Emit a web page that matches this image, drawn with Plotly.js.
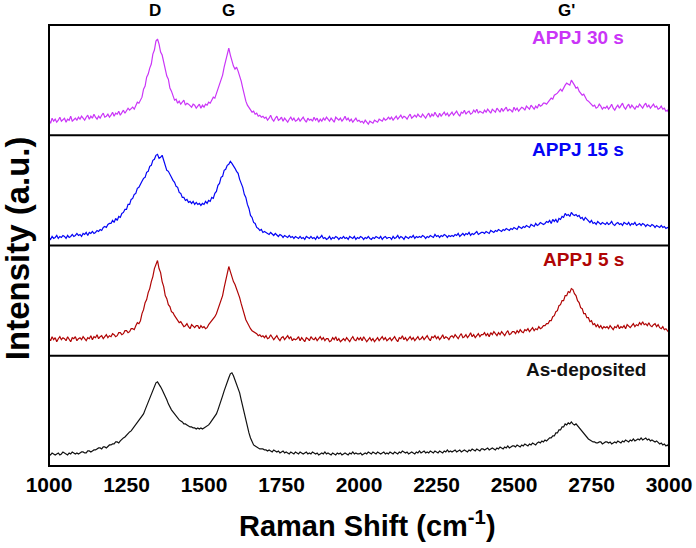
<!DOCTYPE html>
<html>
<head>
<meta charset="utf-8">
<script src="https://cdn.plot.ly/plotly-3.0.1.min.js"></script>
<style>html,body{margin:0;padding:0;background:#fff;}#chart{width:696px;height:548px;}</style>
</head>
<body>
<div id="chart"></div>
<script>
// Raman shift sampling grid (cm^-1)
const X_START = 1000;
const X_STEP = 5;

// Series names (top to bottom)
const seriesNames = ['APPJ 30 s', 'APPJ 15 s', 'APPJ 5 s', 'As-deposited'];

// Intensities (a.u., offset within each panel), one value per 5 cm^-1 from 1000 to 3000
const appj30 = [
15,12,17,14,16,13,15,18,14,16,17,13,16,15,19,14,16,17,15,18,
16,19,17,15,18,20,16,19,17,21,18,16,19,17,20,22,18,19,21,18,
20,23,19,22,21,24,20,23,25,22,24,27,25,27,28,26,30,33,32,36,
38,46,49,58,61,67,71,81,85,94,96,91,83,80,73,67,59,56,47,44,
38,35,36,32,34,31,33,35,30,32,31,29,28,31,30,27,29,31,27,30,
28,31,30,33,32,35,38,37,42,45,50,55,60,68,74,82,87,80,74,69,
66,68,64,60,54,47,40,34,30,28,26,23,24,21,22,19,20,18,19,17,
18,15,17,20,16,14,17,19,15,16,18,14,17,15,13,16,18,15,17,14,
15,17,14,16,18,15,13,17,15,16,14,18,15,17,13,16,14,17,15,18,
16,14,17,15,13,18,16,15,17,14,16,19,15,17,14,16,13,15,17,14,
15,13,14,12,15,13,11,14,13,12,15,14,13,16,15,14,17,15,16,18,
16,18,15,17,19,16,18,20,17,19,18,16,19,21,17,19,20,18,21,19,
18,21,19,17,20,22,18,21,19,23,20,18,22,19,21,23,20,22,19,21,
23,20,22,24,21,19,23,22,25,21,23,24,21,22,25,23,26,22,24,23,
22,25,23,26,24,22,26,24,23,27,25,23,27,24,26,28,24,26,25,23,
28,25,27,24,26,28,27,25,29,27,26,30,28,26,29,27,31,29,30,32,
32,31,33,35,37,36,40,41,42,44,46,44,48,50,52,51,50,55,53,50,
47,48,44,42,40,41,37,35,34,32,31,29,30,27,28,31,29,26,28,27,
29,26,28,31,27,25,28,30,27,29,32,28,26,29,31,27,30,28,26,29,
28,31,29,27,30,32,28,30,27,29,31,28,29,26,27,29,26,27,24,25,
22];

const appj15 = [
8,6,9,7,8,10,7,9,8,10,9,7,10,8,9,11,9,10,12,10,
11,9,12,11,13,10,13,12,14,12,13,15,14,16,15,18,19,18,21,22,
22,25,23,27,25,29,28,32,33,36,36,41,41,46,47,51,52,57,58,62,
64,67,68,73,74,79,80,85,86,90,91,87,88,90,84,81,75,74,70,68,
65,63,59,58,53,52,48,48,45,46,43,44,42,44,41,43,41,42,40,42,
41,44,42,45,44,48,47,52,54,60,62,68,69,75,76,80,81,84,82,80,
77,74,72,66,62,58,51,48,41,37,30,28,23,22,18,17,15,16,13,14,
13,12,11,13,11,10,12,10,9,11,10,8,10,9,8,10,8,9,7,9,
8,7,9,7,8,6,9,8,7,9,7,8,6,9,7,8,10,7,8,6,
7,9,6,8,7,9,8,6,8,7,9,7,8,6,9,8,7,9,6,8,
7,9,8,6,8,7,9,7,6,8,7,9,8,7,9,6,8,9,7,8,
8,6,9,7,8,10,7,9,8,6,9,8,7,9,8,10,7,9,8,9,
8,10,9,7,9,8,10,9,8,11,9,10,8,10,9,11,10,8,10,9,
10,9,11,10,12,9,11,12,10,12,11,13,10,12,11,13,14,11,12,13,
13,12,14,13,12,15,14,13,15,14,16,15,14,16,15,17,16,15,17,16,
18,17,16,19,18,17,19,18,20,19,18,21,20,19,22,20,21,23,22,21,
22,24,23,25,22,26,24,26,23,27,26,29,28,32,30,31,29,33,31,30,
31,29,30,27,28,25,28,26,25,23,25,22,23,21,24,22,21,23,22,21,
23,21,22,24,21,20,22,23,21,22,20,23,22,21,23,20,22,21,23,20,
21,22,20,22,21,19,21,20,19,21,20,18,20,19,18,20,18,19,17,18,
17];

const appj5 = [
17,15,19,16,18,14,17,19,16,18,17,15,19,16,14,18,17,19,15,17,
18,16,19,17,15,18,17,20,16,19,18,21,17,19,20,17,19,21,18,20,
19,22,21,19,20,23,23,21,22,25,25,23,24,27,27,26,30,33,32,35,
42,46,53,56,63,67,74,79,87,91,95,87,83,74,69,60,57,51,49,44,
43,40,38,35,33,34,31,29,30,32,29,27,31,29,28,30,30,27,30,28,
29,27,28,31,33,34,36,39,42,46,50,56,60,68,75,83,89,84,78,74,
71,67,64,58,52,46,40,36,33,29,27,25,24,23,22,20,21,19,20,18,
20,17,18,21,19,16,18,20,17,15,18,19,16,18,20,17,19,15,17,16,
17,19,15,18,16,14,18,17,15,19,17,16,18,15,17,19,16,18,15,17,
17,14,15,18,16,19,15,17,14,16,17,15,18,16,14,17,19,16,15,18,
16,18,15,19,17,14,16,18,15,17,14,16,18,15,17,19,16,18,15,17,
18,15,17,19,16,14,18,17,20,16,18,15,17,19,16,18,15,17,19,16,
17,19,16,18,20,17,15,19,18,20,17,19,16,18,21,17,19,18,16,19,
20,18,21,19,17,20,22,18,19,21,18,20,23,19,21,18,20,22,19,21,
21,23,20,22,19,23,21,24,22,20,23,21,24,22,20,23,25,21,22,24,
24,22,25,23,26,24,23,26,25,27,24,26,28,25,27,26,29,27,28,30,
30,32,32,35,35,39,40,44,45,50,51,55,55,60,60,64,63,67,66,62,
60,55,53,48,47,42,42,38,38,34,35,31,32,29,31,28,30,27,29,28,
29,27,30,28,26,29,28,31,27,29,28,30,27,31,29,28,30,32,29,31,
30,33,31,34,31,32,30,33,30,29,31,32,29,31,28,27,29,26,27,25,
23];

const asDeposited = [
12,11,13,12,11,12,13,11,12,14,13,12,11,13,12,14,13,12,13,12,
13,14,14,13,13,15,15,14,15,16,16,17,18,18,17,19,19,18,20,21,
21,22,22,24,24,23,25,27,28,29,31,33,34,35,37,39,41,43,45,47,
49,52,56,60,64,68,72,76,80,83,84,82,79,76,73,69,66,62,58,56,
54,52,50,47,46,45,44,42,42,41,40,39,39,38,38,37,38,37,38,37,
38,39,40,41,43,45,47,49,52,56,60,65,70,75,80,84,88,92,93,90,
86,83,79,73,66,59,52,45,38,33,28,24,21,20,19,18,17,17,17,16,
16,15,16,15,14,16,15,14,15,13,14,15,13,14,13,12,14,13,12,14,
13,12,14,13,12,13,14,12,13,12,14,13,12,13,11,12,13,12,14,12,
13,12,11,13,12,11,13,12,13,11,12,13,12,11,13,12,14,12,13,12,
12,13,11,12,13,12,14,13,12,14,13,12,14,13,12,13,14,12,13,12,
14,13,12,14,13,12,14,13,15,14,13,14,12,13,14,13,12,14,13,15,
13,14,15,13,14,13,15,14,13,15,14,13,15,14,13,15,14,16,14,15,
14,15,16,14,15,16,14,15,16,15,14,16,15,17,16,15,17,16,15,17,
17,16,17,18,16,17,18,17,16,18,17,19,18,17,19,18,20,18,19,20,
20,19,21,20,19,21,20,22,21,20,22,21,23,22,21,23,24,23,25,24,
26,25,27,28,28,30,30,33,33,36,36,39,39,42,41,43,42,44,42,41,
42,40,38,36,35,33,31,29,27,26,25,24,24,23,23,24,24,22,23,24,
24,23,24,22,23,24,23,25,24,23,25,24,26,25,24,26,25,27,25,26,
27,26,28,26,27,28,26,27,25,26,25,24,25,23,22,23,21,22,20,21,
19];

// Axis tick labels
const xTickVals = [1000, 1250, 1500, 1750, 2000, 2250, 2500, 2750, 3000];
const xTickText = ['1000', '1250', '1500', '1750', '2000', '2250', '2500', '2750', '3000'];

// Peak band labels
const peakNames = ['D', 'G', "G'"];

const FONT = 'Liberation Sans, Arial, Helvetica, sans-serif';
const colors = ['#CA35F7', '#0505F5', '#B00505', '#111111'];
const allSeries = [appj30, appj15, appj5, asDeposited];

const traces = allSeries.map((ys, i) => ({
  type: 'scatter',
  mode: 'lines',
  x0: X_START,
  dx: X_STEP,
  y: ys,
  name: seriesNames[i],
  xaxis: i === 0 ? 'x' : 'x' + (i + 1),
  yaxis: i === 0 ? 'y' : 'y' + (i + 1),
  line: {color: colors[i], width: 1.2},
  hoverinfo: 'skip'
}));

const domains = [[0.75, 1], [0.5, 0.75], [0.25, 0.5], [0, 0.25]];
const layout = {
  width: 696,
  height: 548,
  margin: {l: 49, r: 27, t: 25, b: 82},
  paper_bgcolor: '#ffffff',
  plot_bgcolor: '#ffffff',
  showlegend: false,
  font: {family: FONT, color: '#000'},
  annotations: [],
  shapes: []
};

for (let i = 0; i < 4; i++) {
  const xk = i === 0 ? 'xaxis' : 'xaxis' + (i + 1);
  const yk = i === 0 ? 'yaxis' : 'yaxis' + (i + 1);
  const ya = i === 0 ? 'y' : 'y' + (i + 1);
  const isBottom = i === 3;
  layout[xk] = {
    range: [1000, 3000],
    anchor: ya,
    showgrid: false,
    zeroline: false,
    showline: false,
    ticks: '',
    showticklabels: isBottom,
    tickvals: xTickVals,
    ticktext: xTickText,
    ticklabelstandoff: 4,
    tickfont: {family: FONT, size: 21, weight: 'bold', color: '#000'},
    fixedrange: true
  };
  if (i > 0) layout[xk].matches = 'x';
  layout[yk] = {
    domain: domains[i],
    range: [0, 110],
    anchor: i === 0 ? 'x' : 'x' + (i + 1),
    showgrid: false,
    zeroline: false,
    showline: false,
    ticks: '',
    showticklabels: false,
    fixedrange: true
  };
}

// frame and panel separators
layout.shapes.push({type: 'rect', xref: 'paper', yref: 'paper', x0: 0, x1: 1, y0: 0, y1: 1,
  line: {color: '#000', width: 2}, layer: 'above'});
[0.25, 0.5, 0.75].forEach(yy => layout.shapes.push({type: 'line', xref: 'paper', yref: 'paper',
  x0: 0, x1: 1, y0: yy, y1: yy, line: {color: '#000', width: 2}, layer: 'above'}));

// panel labels
const labelX = [0.9306, 0.9306, 0.9306, 0.966];
const labelY = [0.887, 0.873, 0.873, 0.873];
for (let i = 0; i < 4; i++) {
  layout.annotations.push({
    text: seriesNames[i],
    xref: 'paper',
    yref: (i === 0 ? 'y' : 'y' + (i + 1)) + ' domain',
    x: labelX[i], y: labelY[i],
    xanchor: 'right', yanchor: 'middle',
    showarrow: false,
    font: {family: FONT, size: 19, weight: 'bold', color: colors[i]}
  });
}

// peak labels
const peakX = [0.171, 0.2895, 0.834];
peakNames.forEach((t, i) => layout.annotations.push({
  text: t, xref: 'paper', yref: 'paper', x: peakX[i], y: 1.034,
  xanchor: 'center', yanchor: 'middle', showarrow: false,
  font: {family: FONT, size: 17, weight: 'bold', color: '#000'}
}));

// axis titles
layout.annotations.push({
  text: 'Raman Shift (cm<sup>-1</sup>)', xref: 'paper', yref: 'paper',
  x: 0.5137, y: -0.131, xanchor: 'center', yanchor: 'middle', showarrow: false,
  font: {family: FONT, size: 29, weight: 'bold', color: '#000'}
});
layout.annotations.push({
  text: 'Intensity (a.u.)', xref: 'paper', yref: 'paper',
  x: -0.0516, y: 0.494, xanchor: 'center', yanchor: 'middle', showarrow: false,
  textangle: -90,
  font: {family: FONT, size: 33, weight: 'bold', color: '#000'}
});

Plotly.newPlot('chart', traces, layout, {staticPlot: true, displayModeBar: false});
</script>
</body>
</html>
